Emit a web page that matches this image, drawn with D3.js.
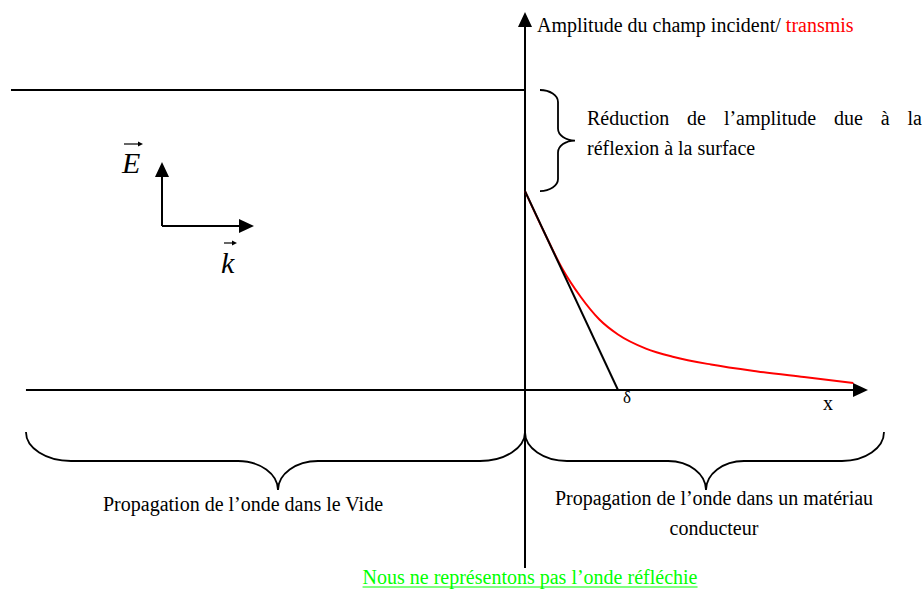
<!DOCTYPE html>
<html>
<head>
<meta charset="utf-8">
<script src="https://cdn.jsdelivr.net/npm/d3@7"></script>
<style>
  body { margin: 0; background: #fff; }
  svg { display: block; }
  text { font-family: 'Liberation Serif', 'Times New Roman', serif; fill: #000; }
</style>
</head>
<body>
<script>
// distance in units of the skin depth (delta = 1), amplitude relative to incident (= 1)
const transX = [0, 0.2, 0.4, 0.6, 0.8, 1.0, 1.3, 1.6, 2.0, 2.5, 3.0, 3.53];
const transA = [0.663, 0.53, 0.405, 0.31, 0.235, 0.185, 0.138, 0.11, 0.085, 0.062, 0.043, 0.023];
const tangentX = [0, 1];
const tangentA = [0.663, 0];
const incidentX = [-5.527, 0];
const incidentA = [1, 1];
const xAxisExtent = [-5.366, 3.688];
const yAxisExtent = [-0.593, 1.26];

const labels = {
  yAxis: 'Amplitude du champ incident/ ',
  yAxisRed: 'transmis',
  reduction1: ['Réduction', 'de', 'l’amplitude', 'due', 'à', 'la'],
  reduction2: 'réflexion à la surface',
  vide: 'Propagation de l’onde dans le Vide',
  cond1: 'Propagation de l’onde dans un matériau',
  cond2: 'conducteur',
  note: 'Nous ne représentons pas l’onde réfléchie'
};

const width = 924;
const height = 592;

const x = d3.scaleLinear().domain([0, 1]).range([525, 618]);
const y = d3.scaleLinear().domain([0, 1]).range([390, 90]);

const svg = d3.select('body').append('svg')
  .attr('width', width)
  .attr('height', height);

const line = d3.line().x(d => x(d[0])).y(d => y(d[1]));

// incident amplitude line
svg.append('path')
  .datum(d3.zip(incidentX, incidentA))
  .attr('d', line)
  .attr('fill', 'none')
  .attr('stroke', '#000')
  .attr('stroke-width', 2);

// axes
const x0 = x(0), y0 = y(0);
const xEnd = x(xAxisExtent[1]);
const yTop = y(yAxisExtent[1]);
svg.append('line')
  .attr('x1', x(xAxisExtent[0])).attr('y1', y0)
  .attr('x2', xEnd - 14).attr('y2', y0)
  .attr('stroke', '#000').attr('stroke-width', 2);
svg.append('path')
  .attr('d', `M${xEnd},${y0} L${xEnd - 15},${y0 - 7} L${xEnd - 15},${y0 + 7} Z`)
  .attr('fill', '#000');
svg.append('line')
  .attr('x1', x0).attr('y1', y(yAxisExtent[0]))
  .attr('x2', x0).attr('y2', yTop + 14)
  .attr('stroke', '#000').attr('stroke-width', 2);
svg.append('path')
  .attr('d', `M${x0},${yTop} L${x0 - 7},${yTop + 15} L${x0 + 7},${yTop + 15} Z`)
  .attr('fill', '#000');

// transmitted amplitude
svg.append('path')
  .datum(d3.zip(transX, transA))
  .attr('d', line.curve(d3.curveMonotoneX))
  .attr('fill', 'none')
  .attr('stroke', '#ff0000')
  .attr('stroke-width', 2);

// tangent at origin
svg.append('path')
  .datum(d3.zip(tangentX, tangentA))
  .attr('d', d3.line().x(d => x(d[0])).y(d => y(d[1])))
  .attr('fill', 'none')
  .attr('stroke', '#000')
  .attr('stroke-width', 2);

// curly brace; along = main direction, across = bulge direction
function brace(pt, a0, a1, tip, cE, cF, cT, eL, tL) {
  const k = 0.552;
  const p = (a, c) => pt(a, c).join(',');
  return `M${p(a0, cE)}` +
    ` C${p(a0, cE + k * (cF - cE))} ${p(a0 + eL - k * eL, cF)} ${p(a0 + eL, cF)}` +
    ` L${p(tip - tL, cF)}` +
    ` C${p(tip - tL + k * tL, cF)} ${p(tip, cT - k * (cT - cF))} ${p(tip, cT)}` +
    ` C${p(tip, cT - k * (cT - cF))} ${p(tip + tL - k * tL, cF)} ${p(tip + tL, cF)}` +
    ` L${p(a1 - eL, cF)}` +
    ` C${p(a1 - eL + k * eL, cF)} ${p(a1, cE + k * (cF - cE))} ${p(a1, cE)}`;
}
const horiz = (a, c) => [a, c];
const vert = (a, c) => [c, a];

const braces = svg.append('g')
  .attr('fill', 'none')
  .attr('stroke', '#000')
  .attr('stroke-width', 1.8);
braces.append('path')
  .attr('d', brace(vert, y(1), y(tangentA[0]), (y(1) + y(tangentA[0])) / 2,
    x0 + 15, x0 + 33, x0 + 50, 12, 12));
braces.append('path')
  .attr('d', brace(horiz, x(xAxisExtent[0]), x0, 278, 432, 461, 490, 45, 40));
braces.append('path')
  .attr('d', brace(horiz, x0, 884, 706, 432, 461, 490, 42, 38));

// E and k vectors
const vecO = [162, 226];
const vec = svg.append('g');
vec.append('line')
  .attr('x1', vecO[0]).attr('y1', vecO[1])
  .attr('x2', vecO[0]).attr('y2', vecO[1] - 52)
  .attr('stroke', '#000').attr('stroke-width', 2);
vec.append('path')
  .attr('d', `M${vecO[0]},${vecO[1] - 64} L${vecO[0] - 7},${vecO[1] - 49} L${vecO[0] + 7},${vecO[1] - 49} Z`);
vec.append('line')
  .attr('x1', vecO[0]).attr('y1', vecO[1])
  .attr('x2', vecO[0] + 80).attr('y2', vecO[1])
  .attr('stroke', '#000').attr('stroke-width', 2);
vec.append('path')
  .attr('d', `M${vecO[0] + 92},${vecO[1]} L${vecO[0] + 77},${vecO[1] - 7} L${vecO[0] + 77},${vecO[1] + 7} Z`);

function overArrow(x1, x2, yy) {
  vec.append('line')
    .attr('x1', x1).attr('y1', yy).attr('x2', x2 - 3).attr('y2', yy)
    .attr('stroke', '#000').attr('stroke-width', 1.2);
  vec.append('path')
    .attr('d', `M${x2},${yy} L${x2 - 5},${yy - 2.5} L${x2 - 5},${yy + 2.5} Z`);
}
vec.append('text')
  .attr('x', 122).attr('y', 173)
  .attr('font-size', 30).attr('font-style', 'italic')
  .text('E');
overArrow(124, 143, 144);
vec.append('text')
  .attr('x', 221).attr('y', 273)
  .attr('font-size', 30).attr('font-style', 'italic')
  .text('k');
overArrow(224, 237, 243);

// texts
const t1 = svg.append('text')
  .attr('x', 537).attr('y', 32)
  .attr('font-size', 20);
t1.append('tspan').text(labels.yAxis);
t1.append('tspan').attr('fill', '#ff0000').style('fill', '#ff0000').text(labels.yAxisRed);

// justified line
const jLeft = 587, jRight = 922;
const words = labels.reduction1.map(w => svg.append('text')
  .attr('y', 125).attr('font-size', 20).text(w));
const widths = words.map(w => w.node().getComputedTextLength());
const gap = (jRight - jLeft - d3.sum(widths)) / (words.length - 1);
let cx = jLeft;
words.forEach((w, i) => {
  w.attr('x', cx);
  cx += widths[i] + gap;
});
svg.append('text')
  .attr('x', jLeft).attr('y', 155)
  .attr('font-size', 20)
  .text(labels.reduction2);

svg.append('text')
  .attr('x', x(1) + 9).attr('y', 403)
  .attr('font-size', 17).attr('text-anchor', 'middle')
  .text('δ');
svg.append('text')
  .attr('x', 828).attr('y', 410)
  .attr('font-size', 20).attr('text-anchor', 'middle')
  .text('x');

svg.append('text')
  .attr('x', 243).attr('y', 511)
  .attr('font-size', 20).attr('text-anchor', 'middle')
  .text(labels.vide);
svg.append('text')
  .attr('x', 714).attr('y', 505)
  .attr('font-size', 20).attr('text-anchor', 'middle')
  .text(labels.cond1);
svg.append('text')
  .attr('x', 714).attr('y', 535)
  .attr('font-size', 20).attr('text-anchor', 'middle')
  .text(labels.cond2);

const note = svg.append('text')
  .attr('x', 530).attr('y', 584)
  .attr('font-size', 20).attr('text-anchor', 'middle')
  .style('fill', '#00ff00')
  .text(labels.note);
const nb = note.node().getBBox();
svg.append('line')
  .attr('x1', nb.x).attr('x2', nb.x + nb.width)
  .attr('y1', 587).attr('y2', 587)
  .attr('stroke', '#00ff00').attr('stroke-width', 1.2);
</script>
</body>
</html>
